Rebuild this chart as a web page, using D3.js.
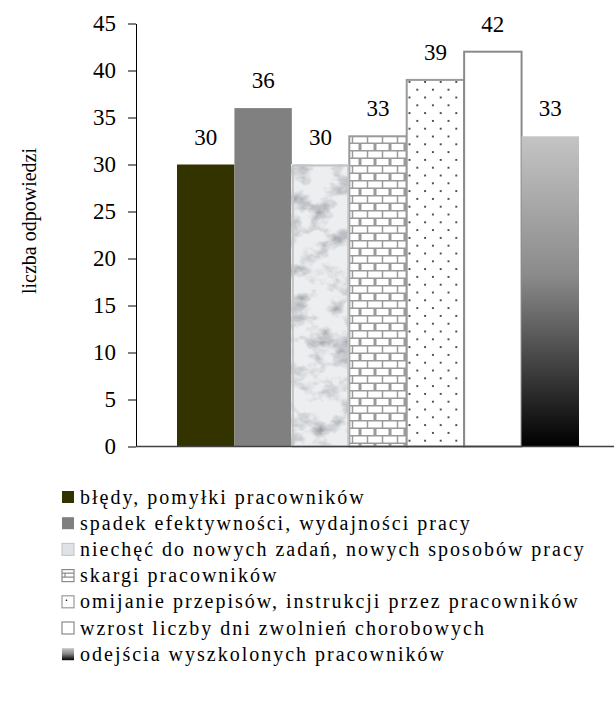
<!DOCTYPE html>
<html>
<head>
<meta charset="utf-8">
<script src="https://cdn.jsdelivr.net/npm/d3@7"></script>
<style>
  html, body { margin: 0; padding: 0; background: #fff; }
  svg text { font-family: "Liberation Serif", "Times New Roman", serif; fill: #000; }
</style>
</head>
<body>
<svg id="chart" width="615" height="702"></svg>
<script>
// Reasons reported, one bar per answer
const categories = [
  "błędy, pomyłki pracowników",
  "spadek efektywności, wydajności pracy",
  "niechęć do nowych zadań, nowych sposobów pracy",
  "skargi pracowników",
  "omijanie przepisów, instrukcji przez pracowników",
  "wzrost liczby dni zwolnień chorobowych",
  "odejścia wyszkolonych pracowników"
];
const values = [30, 36, 30, 33, 39, 42, 33];
const yTicks = [0, 5, 10, 15, 20, 25, 30, 35, 40, 45];
const yTitle = "liczba odpowiedzi";

const svg = d3.select("#chart");
const defs = svg.append("defs");

// ---- fills ----
// marble texture: pale background with soft grey veins
const marble = defs.append("filter").attr("id", "marble")
  .attr("x", 0).attr("y", 0).attr("width", 1).attr("height", 1)
  .attr("filterUnits", "objectBoundingBox");
marble.append("feTurbulence").attr("type", "fractalNoise")
  .attr("baseFrequency", "0.045 0.06").attr("numOctaves", 4).attr("seed", 7).attr("result", "n");
marble.append("feColorMatrix").attr("in", "n").attr("type", "matrix")
  .attr("values", "0 0 0 0 0  0 0 0 0 0  0 0 0 0 0  2.2 0 0 0 -1.0").attr("result", "a");
marble.append("feFlood").attr("flood-color", "#8c9098").attr("result", "c");
marble.append("feComposite").attr("in", "c").attr("in2", "a").attr("operator", "in").attr("result", "spots");
marble.append("feFlood").attr("flood-color", "#eceef0").attr("result", "bg");
marble.append("feMerge").selectAll("feMergeNode").data(["bg", "spots"]).join("feMergeNode").attr("in", d => d);

// bricks
const brick = defs.append("pattern").attr("id", "bricks")
  .attr("patternUnits", "userSpaceOnUse").attr("width", 15).attr("height", 15);
brick.append("rect").attr("width", 15).attr("height", 15).attr("fill", "#fff");
brick.append("path")
  .attr("d", "M0,0.75H15 M0,8.25H15 M7.5,0V8.25 M0.75,8.25V15 M14.25,8.25V15")
  .attr("stroke", "#9a9a9a").attr("stroke-width", 1.5).attr("fill", "none");

// dots
const dots = defs.append("pattern").attr("id", "dots")
  .attr("patternUnits", "userSpaceOnUse").attr("width", 15.6).attr("height", 15.6);
dots.append("rect").attr("width", 15.6).attr("height", 15.6).attr("fill", "#fff");
dots.append("circle").attr("cx", 3.9).attr("cy", 3.9).attr("r", 0.9).attr("fill", "#000");
dots.append("circle").attr("cx", 11.7).attr("cy", 11.7).attr("r", 0.9).attr("fill", "#000");

// grey-to-black gradient
const grad = defs.append("linearGradient").attr("id", "fade")
  .attr("x1", 0).attr("y1", 0).attr("x2", 0).attr("y2", 1);
grad.append("stop").attr("offset", "0%").attr("stop-color", "#c4c4c4");
grad.append("stop").attr("offset", "45%").attr("stop-color", "#8a8a8a");
grad.append("stop").attr("offset", "100%").attr("stop-color", "#000");

const fills = ["#333300", "#808080", "#e6e8eb", "url(#bricks)", "url(#dots)", "#ffffff", "url(#fade)"];
const strokes = ["none", "none", "#b8b8b8", "#9a9a9a", "#9a9a9a", "#8a8a8a", "none"];

// ---- scales ----
const y = d3.scaleLinear().domain([0, 45]).range([446.5, 23.5]);
const x = d3.scaleBand().domain(categories).range([177, 579]).padding(0);

// bars
const bars = svg.append("g");
bars.selectAll("rect.bar").data(values).join("rect")
  .attr("class", "bar")
  .attr("x", (d, i) => x(categories[i]))
  .attr("y", d => y(d))
  .attr("width", x.bandwidth())
  .attr("height", d => y(0) - y(d))
  .attr("fill", (d, i) => fills[i])
  .attr("filter", (d, i) => i === 2 ? "url(#marble)" : null)
  .attr("stroke", (d, i) => strokes[i])
  .attr("stroke-width", 2);
// border for the marble bar (filter replaces its own stroke)
bars.append("rect")
  .attr("x", x(categories[2]) + 1).attr("y", y(values[2]) + 1)
  .attr("width", x.bandwidth() - 2).attr("height", y(0) - y(values[2]) - 1)
  .attr("fill", "none").attr("stroke", "#c4c4c4").attr("stroke-width", 2);

// value labels
svg.append("g").selectAll("text").data(values).join("text")
  .attr("x", (d, i) => x(categories[i]) + x.bandwidth() / 2)
  .attr("y", d => y(d) - 20)
  .attr("text-anchor", "middle")
  .attr("font-size", 23)
  .text(d => d);

// y axis
const yAxis = svg.append("g").attr("transform", "translate(136,0)")
  .call(d3.axisLeft(y).tickValues(yTicks).tickSize(8).tickSizeOuter(0).tickPadding(12));
yAxis.select(".domain").attr("stroke", "#000");
yAxis.selectAll(".tick line").attr("stroke", "#000");
yAxis.selectAll(".tick text").attr("font-size", 23).attr("fill", "#000");

// x axis baseline
svg.append("line")
  .attr("x1", 136).attr("x2", 614).attr("y1", y(0)).attr("y2", y(0))
  .attr("stroke", "#404040").attr("stroke-width", 1.5);

// y axis title
svg.append("text")
  .attr("transform", "translate(36," + ((y(0) + y(45)) / 2 - 14) + ") rotate(-90)")
  .attr("text-anchor", "middle")
  .attr("font-size", 20)
  .text(yTitle);

// ---- legend ----
const legend = svg.append("g");
const rowY = i => 497 + i * 26.2;
const items = legend.selectAll("g").data(categories).join("g")
  .attr("transform", (d, i) => "translate(62," + rowY(i) + ")");
items.append("rect")
  .attr("x", 0).attr("y", -6).attr("width", 12).attr("height", 12)
  .attr("fill", (d, i) => [ "#333300", "#808080", "#dfe2e6", "#fff", "#fff", "#fff", "url(#fade)"][i])
  .attr("stroke", (d, i) => ["none", "none", "#c8c8c8", "#8a8a8a", "#9a9a9a", "#8a8a8a", "none"][i])
  .attr("stroke-width", 1.2);
// inner marks of the brick and dot swatches
items.filter((d, i) => i === 3).append("path")
  .attr("d", "M0,-2.5H12 M0,1.5H12 M3,-2.5V1.5")
  .attr("stroke", "#8a8a8a").attr("stroke-width", 1.2).attr("fill", "none");
items.filter((d, i) => i === 4).append("circle")
  .attr("cx", 4.5).attr("cy", -1.5).attr("r", 0.8).attr("fill", "#000");
items.append("text")
  .attr("x", 18).attr("y", 6.5)
  .attr("font-size", 20)
  .attr("letter-spacing", 2)
  .text(d => d);
</script>
</body>
</html>
